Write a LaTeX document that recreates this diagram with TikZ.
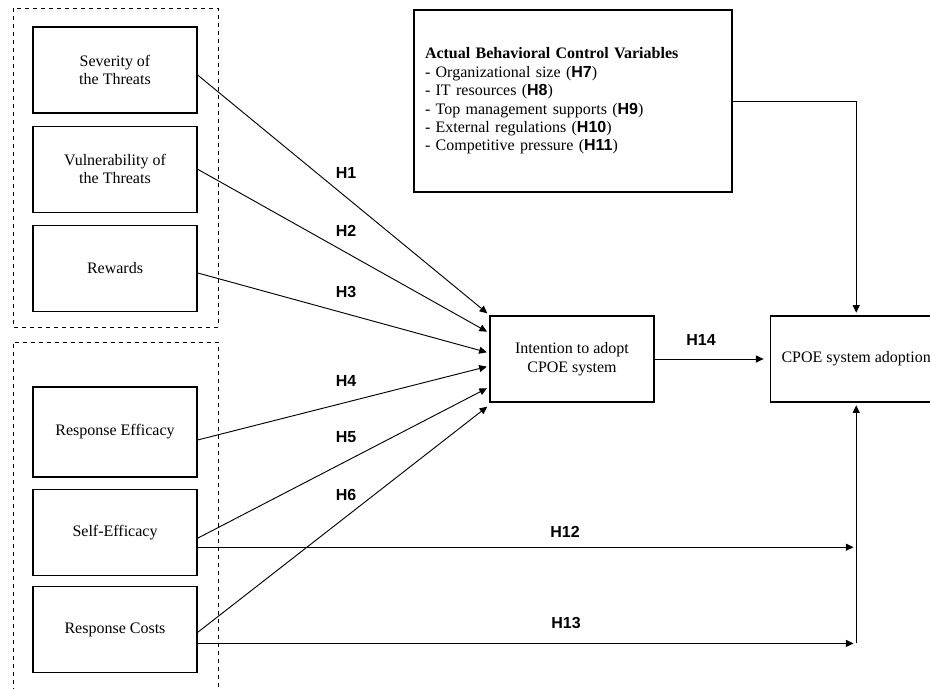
\documentclass[tikz,border=0pt]{standalone}
\usepackage{fontspec}
\setmainfont{Liberation Serif}
\newfontfamily\hsans{Liberation Sans}
\usetikzlibrary{arrows.meta,positioning}
\newcommand{\hb}[1]{{\hsans\bfseries #1}}

\begin{document}
\begin{tikzpicture}[x=0.75pt,y=-0.75pt]
\tikzstyle{factor}=[rectangle,draw=black,line width=0.9pt,
minimum width=123pt,minimum height=64.5pt,align=center,inner sep=2pt,
font=\fontsize{12}{13.8}\selectfont]
\tikzstyle{hyp}=[inner sep=0pt,font=\hsans\bfseries\fontsize{12}{14}\selectfont]
\tikzstyle{group}=[draw=black,dashed,line width=0.6pt]
\tikzstyle{link}=[-{Triangle[length=5.75pt,width=5.25pt]},line width=0.7pt,shorten >=2pt]
\clip (0,0) rectangle (930,688);

% dashed groups
\draw[group] (13,8) rectangle (218,327);
\draw[group] (13,700) |- (218,342) -- (218,700);

% threat appraisal
\node[factor] at (115,70) (sev) {Severity of\\the Threats};
\node[factor,below=9pt of sev] (vul) {Vulnerability of\\the Threats};
\node[factor,below=9pt of vul] (rew) {Rewards};
% coping appraisal
\node[factor,minimum height=67.5pt] at (115,432) (reff) {Response Efficacy};
\node[factor,below=8.25pt of reff] (seff) {Self-Efficacy};
\node[factor,below=7.5pt of seff] (rcost) {Response Costs};

\node[factor] at (572,359) (intent) {Intention to adopt\\CPOE system};
\node[factor,minimum width=129pt,right=86.25pt of intent] (adopt) {CPOE system adoption};
\node[draw=black,line width=0.9pt,minimum width=238.5pt,minimum height=136.5pt,
text width=222pt,inner xsep=8.25pt,align=left,
font=\fontsize{12}{13.8}\selectfont] at (573,101) (ctrl)
{\textbf{Actual Behavioral Control Variables}\\
- Organizational size (\hb{H7})\\
- IT resources (\hb{H8})\\
- Top management supports (\hb{H9})\\
- External regulations (\hb{H10})\\
- Competitive pressure (\hb{H11})};

\coordinate (t1) at ([yshift=33pt]intent.west);
\coordinate (t2) at ([yshift=19.5pt]intent.west);
\coordinate (t3) at ([yshift=4.5pt]intent.west);
\coordinate (t4) at ([yshift=-5.25pt]intent.west);
\coordinate (t5) at ([yshift=-21pt]intent.west);
\coordinate (t6) at ([yshift=-34.5pt]intent.west);
\coordinate (s12) at ([yshift=-11.25pt]seff.east);
\coordinate (s13) at ([yshift=-10.5pt]rcost.east);
\coordinate (j12) at (s12 -| adopt.south);
\coordinate (j13) at (s13 -| adopt.south);

\draw[link] ([yshift=-3.75pt]sev.east) -- (t1);
\draw[link] (vul.east) -- (t2);
\draw[link] ([yshift=-3.4pt]rew.east) -- (t3);
\draw[link] ([yshift=-6pt]reff.east) -- (t4);
\draw[link] ([yshift=-4.5pt]seff.east) -- (t5);
\draw[link] ([yshift=-2.25pt]rcost.east) -- (t6);
\draw[link] (s12) -- (j12);
\draw[link] (s13) -- (j13);
\draw[link] (j13) -- (adopt.south);
\draw[link] (ctrl.east) -| (adopt.north);
\draw[link,shorten >=4.5pt] (intent.east) -- (adopt.west);

\node[hyp] at (346,173) (h1) {H1};
\node[hyp] at (346,231) (h2) {H2};
\node[hyp] at (346,292) (h3) {H3};
\node[hyp] at (346,381) (h4) {H4};
\node[hyp] at (346,437) (h5) {H5};
\node[hyp] at (346,495) (h6) {H6};
\node[hyp] at (565,532) (h12) {H12};
\node[hyp] at (566,623) (h13) {H13};
\node[hyp] at (701,340) (h14) {H14};

\end{tikzpicture}
\end{document}
